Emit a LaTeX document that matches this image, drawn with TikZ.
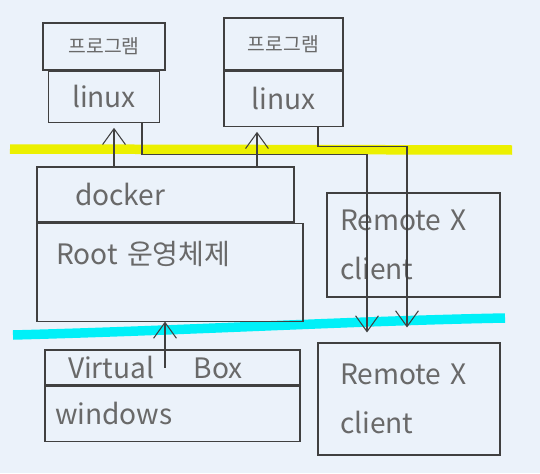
\documentclass[tikz,border=0pt]{standalone}
\usepackage{fontspec}
\setmainfont{Noto Sans CJK KR}
\usepackage{xcolor}
\definecolor{paper}{RGB}{235, 242, 250}
\definecolor{ink}{RGB}{64, 64, 64}
\definecolor{pen}{RGB}{105, 105, 105}
\definecolor{marker}{RGB}{236, 240, 0}
\definecolor{aqua}{RGB}{0, 240, 248}
\usetikzlibrary{
    arrows.meta,
    positioning
}
\tikzstyle{arrow} = [
    ink,
    line width=0.6pt,
    -{Straight Barb[length=9pt, width=13pt]}
]

\begin{document}
\begin{tikzpicture}[
  x=0.02cm, y=-0.02cm,
  node distance=0pt,
  every node/.style={draw=ink, line width=0.6pt, text=pen, inner sep=0pt,
                     font=\fontsize{16}{19}\selectfont},
  prog/.style={font=\fontsize{11}{13}\selectfont},
  wide/.style={align=left}
]

\fill[paper] (0,0) rectangle (540,473);

% marker strokes
\draw[marker, line width=0.19cm] (10,149) -- (512,150);
\draw[aqua, line width=0.19cm] (13,335) .. controls (200,330) and (350,321) .. (505,318);

\node[prog, minimum width=2.44cm, minimum height=0.94cm] (prog1) at (104,46.5) {프로그램};
\node[minimum width=2.22cm, minimum height=1.02cm] (linux1) [below=of prog1] {linux};
\node[prog, minimum width=2.38cm, minimum height=1.04cm] (prog2) at (283.5,44) {프로그램};
\node[minimum width=2.38cm, minimum height=1.1cm] (linux2) [below=of prog2] {linux};

\node[wide, text width=3.62cm, inner xsep=0.76cm, minimum height=1.1cm] (docker) at (165.5,194.5) {docker};
\node[wide, text width=4.56cm, inner xsep=0.38cm, minimum height=1.96cm, text depth=0.75cm] (root) [below right=of docker.south west] {Root 운영체제};
\node[wide, text width=2.94cm, inner xsep=0.26cm, minimum height=2.08cm] (rx1) at (413.5,245) {Remote X\\[0.3cm]client};

\node[wide, text width=4.18cm, inner xsep=0.46cm, minimum height=0.7cm] (vbox) at (172.5,367.5) {Virtual\hspace{1.4em}Box};
\node[wide, text width=4.7cm, inner xsep=0.2cm, minimum height=1.1cm] (windows) [below right=of vbox.south west] {windows};
\node[wide, text width=2.76cm, inner xsep=0.44cm, minimum height=2.24cm] (rx2) at (409,399) {Remote X\\[0.3cm]client};

\draw[arrow, shorten >=3pt] ([xshift=-1.03cm]docker.north) -- ([xshift=-1.03cm]docker.north |- linux1.south);
\draw[arrow, shorten >=3pt] ([xshift=1.83cm]docker.north) -- ([xshift=1.83cm]docker.north |- linux2.south);
\draw[arrow, shorten >=0.2cm] ([xshift=0.76cm]linux1.south) -- ++(0,32) -| ([xshift=-0.84cm]rx2.north);
\draw[arrow, shorten >=0.3cm] ([xshift=0.69cm]linux2.south) -- ++(0,20) -| ([xshift=-0.04cm]rx2.north);
\draw[arrow] ([xshift=-0.15cm]vbox.center) -- ([xshift=-0.15cm]vbox.center |- root.south);

\end{tikzpicture}
\end{document}
